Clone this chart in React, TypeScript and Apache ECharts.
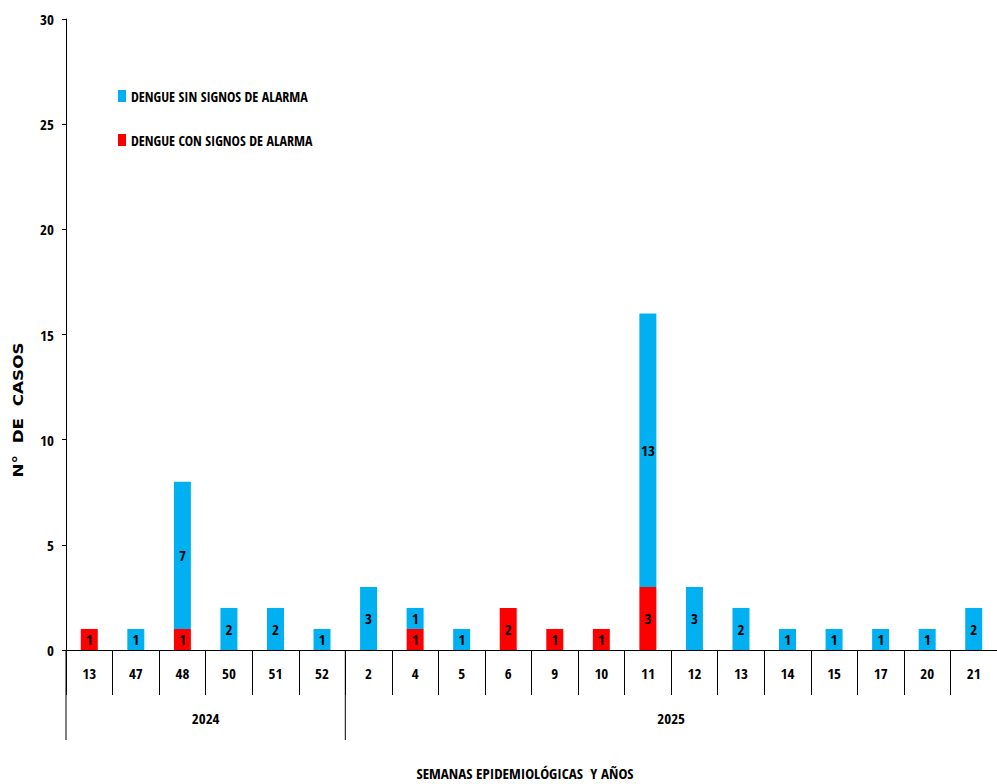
import React, { useEffect, useRef } from "react";
import * as echarts from "echarts";

const weeks = ["13", "47", "48", "50", "51", "52", "2", "4", "5", "6", "9", "10", "11", "12", "13", "14", "15", "17", "20", "21"];
const conSignos = [1, 0, 1, 0, 0, 0, 0, 1, 0, 2, 1, 1, 3, 0, 0, 0, 0, 0, 0, 0];
const sinSignos = [0, 1, 7, 2, 2, 1, 3, 1, 1, 0, 0, 0, 13, 3, 2, 1, 1, 1, 1, 2];
const years = ["2024", "2025"];
const weeksPerYear = [6, 14];
const yTicks = { min: 0, max: 30, interval: 5 };

const SIN = "DENGUE SIN SIGNOS DE ALARMA";
const CON = "DENGUE CON SIGNOS DE ALARMA";
const NARROW = "'Open Sans Condensed', 'Roboto Condensed', sans-serif";

export default function App() {
  const ref = useRef<HTMLDivElement>(null);
  useEffect(() => {
    if (!ref.current) return;
    const chart = echarts.init(ref.current, null, { renderer: "svg" });
    const labelFmt = (p: any) => (p.value ? String(p.value) : "");
    const barLabel = { show: true, position: "inside", formatter: labelFmt, fontFamily: NARROW, fontWeight: "bold", fontSize: 15, color: "#000" };
    chart.setOption({
      animation: false,
      backgroundColor: "#ffffff",
      grid: { left: 66, right: 0, top: 19, bottom: 134, containLabel: false },
      legend: {
        orient: "vertical",
        left: 113,
        top: 84,
        itemWidth: 8,
        itemHeight: 12,
        itemGap: 30,
        data: [SIN, CON],
        textStyle: { fontFamily: NARROW, fontWeight: "bold", fontSize: 14, color: "#000" },
        icon: "rect",
      },
      xAxis: {
        type: "category",
        data: weeks,
        axisLine: { lineStyle: { color: "#000", width: 1 } },
        axisTick: { show: true, length: 45, interval: 0, lineStyle: { color: "#000" } },
        axisLabel: {
          interval: 0,
          margin: 15,
          fontFamily: NARROW,
          fontWeight: "bold",
          fontSize: 15,
          color: "#000",
        },
      },
      yAxis: {
        type: "value",
        min: yTicks.min,
        max: yTicks.max,
        interval: yTicks.interval,
        splitLine: { show: false },
        axisLine: { show: true, lineStyle: { color: "#000", width: 1 } },
        axisTick: { show: true, length: 4, lineStyle: { color: "#000" } },
        axisLabel: { margin: 12, fontFamily: NARROW, fontWeight: "bold", fontSize: 15, color: "#000" },
      },
      series: [
        {
          name: CON,
          type: "bar",
          stack: "total",
          data: conSignos,
          barWidth: 17,
          itemStyle: { color: "#FF0000" },
          label: barLabel,
        },
        {
          name: SIN,
          type: "bar",
          stack: "total",
          data: sinSignos,
          barWidth: 17,
          itemStyle: { color: "#00B0F0" },
          label: barLabel,
        },
      ],
    });

    const x0 = chart.convertToPixel({ xAxisIndex: 0 }, 0) as number;
    const x1 = chart.convertToPixel({ xAxisIndex: 0 }, 1) as number;
    const w = x1 - x0;
    const yBase = chart.convertToPixel({ yAxisIndex: 0 }, 0) as number;
    const graphics: any[] = [];
    let start = 0;
    years.forEach((yr, i) => {
      const left = x0 - w / 2 + start * w;
      const n = weeksPerYear[i];
      graphics.push({
        type: "line",
        shape: { x1: left, y1: yBase, x2: left, y2: yBase + 90 },
        style: { stroke: "#000", lineWidth: 1 },
      });
      graphics.push({
        type: "text",
        x: left + (n * w) / 2,
        y: yBase + 68,
        style: { text: yr, font: `bold 15px ${NARROW}`, fill: "#000", textAlign: "center", textVerticalAlign: "middle" },
      });
      start += n;
    });
    graphics.push({
      type: "text",
      x: 525,
      y: 773,
      style: { text: "SEMANAS EPIDEMIOLÓGICAS  Y AÑOS", font: `bold 15px ${NARROW}`, fill: "#000", textAlign: "center", textVerticalAlign: "middle" },
    });
    graphics.push({
      type: "text",
      x: 18,
      y: 410,
      rotation: Math.PI / 2,
      scaleX: 1.2,
      style: { text: "N°  DE  CASOS", font: "bold 14px 'DejaVu Sans', sans-serif", fill: "#000", textAlign: "center", textVerticalAlign: "middle" },
    });
    chart.setOption({ graphic: graphics });

    return () => chart.dispose();
  }, []);
  return <div ref={ref} style={{ position: "fixed", left: 0, top: 0, width: 997, height: 784 }} />;
}
